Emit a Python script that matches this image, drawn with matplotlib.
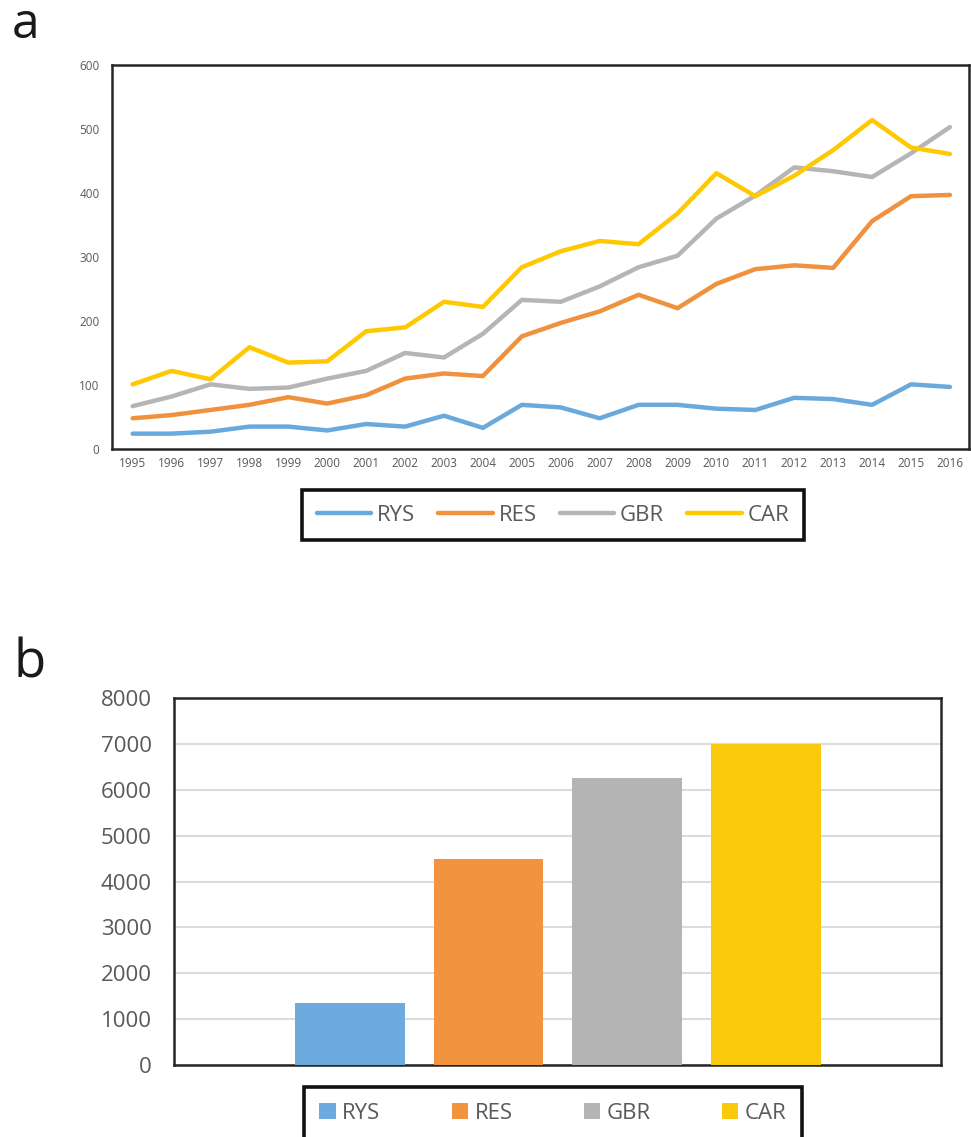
import numpy as np
import matplotlib
matplotlib.use("Agg")
import matplotlib.pyplot as plt

plt.rcParams['font.family'] = ['Open Sans', 'DejaVu Sans']

years = list(range(1995, 2017))
series_names = ["RYS", "RES", "GBR", "CAR"]

rys = [24, 24, 27, 35, 35, 29, 39, 35, 52, 33, 69, 65, 48, 69, 69, 63, 61, 80, 78, 69, 101, 97]
res = [48, 53, 61, 69, 81, 71, 84, 110, 118, 114, 176, 197, 215, 241, 220, 258, 281, 287, 283, 356, 395, 397]
gbr = [67, 82, 101, 94, 96, 110, 122, 150, 143, 180, 233, 230, 254, 284, 302, 360, 396, 440, 434, 425, 462, 503]
car = [101, 122, 109, 159, 135, 137, 184, 190, 230, 222, 284, 309, 325, 320, 368, 431, 395, 427, 467, 514, 471, 461]

totals = [1345, 4480, 6250, 6995]

line_colors = ['#6AA9DC', '#F0913E', '#B5B5B5', '#FFC800']
bar_colors = ['#6DAADD', '#F2933F', '#B4B4B4', '#FBC90B']
tick_gray = '#595959'

W, H = 971, 1137
fig = plt.figure(figsize=(W / 100, H / 100), dpi=100)

def box(l, t, r, b):
    return [l / W, 1 - b / H, (r - l) / W, (b - t) / H]

# ---- panel a: lines ----
ax1 = fig.add_axes(box(112, 65, 969, 449))
for vals, name, c in zip([rys, res, gbr, car], series_names, line_colors):
    ax1.plot(years, vals, color=c, lw=3.2, label=name, solid_capstyle='round')
ax1.set_xlim(1994.47, 2016.49)
ax1.set_ylim(0, 600)
ax1.set_xticks(years)
ax1.set_yticks(range(0, 601, 100))
ax1.tick_params(length=0, labelsize=8.5, colors=tick_gray)
ax1.tick_params(axis='y', pad=9)
ax1.tick_params(axis='x', pad=6)
for s in ax1.spines.values():
    s.set_linewidth(1.8)
    s.set_color('#262626')

leg1 = fig.legend(loc='center', bbox_to_anchor=((304 + 802) / 2 / W, 1 - 515 / H),
                  ncol=4, fontsize=16, frameon=True, fancybox=False, framealpha=1,
                  handlelength=2.45, handletextpad=0.25, columnspacing=1.05,
                  borderpad=0.65, borderaxespad=0)
leg1.get_frame().set_edgecolor('#111111')
leg1.get_frame().set_linewidth(2.6)
for t in leg1.get_texts():
    t.set_color(tick_gray)

fig.text(12 / W, 1 - 38 / H, "a", fontsize=36, color='#1a1a1a', va='baseline', ha='left')

# ---- panel b: bars ----
ax2 = fig.add_axes(box(174, 698, 941, 1065))
xpos = np.arange(len(series_names))
ax2.bar(xpos, totals, width=0.79, color=bar_colors, label=series_names, zorder=3)
ax2.set_xlim(-1.266, 4.26)
ax2.set_ylim(0, 8000)
ax2.set_yticks(range(0, 8001, 1000))
ax2.set_xticks([])
ax2.grid(axis='y', color='#DCDCDC', lw=1.5, zorder=0)
ax2.tick_params(length=0, labelsize=16, colors=tick_gray, pad=16)
for s in ax2.spines.values():
    s.set_linewidth(1.8)
    s.set_color('#262626')

leg2 = fig.legend(*ax2.get_legend_handles_labels(), loc='upper center',
                  bbox_to_anchor=((304 + 802) / 2 / W, 1 - 1087 / H),
                  ncol=4, fontsize=16, frameon=True, fancybox=False, framealpha=1,
                  handlelength=0.73, handleheight=0.73, handletextpad=0.3,
                  columnspacing=3.2, borderpad=0.7, borderaxespad=0)
leg2.get_frame().set_edgecolor('#111111')
leg2.get_frame().set_linewidth(2.6)
for t in leg2.get_texts():
    t.set_color(tick_gray)

fig.text(14 / W, 1 - 677 / H, "b", fontsize=38, color='#1a1a1a', va='baseline', ha='left')

fig.savefig("out.png", dpi=100)
